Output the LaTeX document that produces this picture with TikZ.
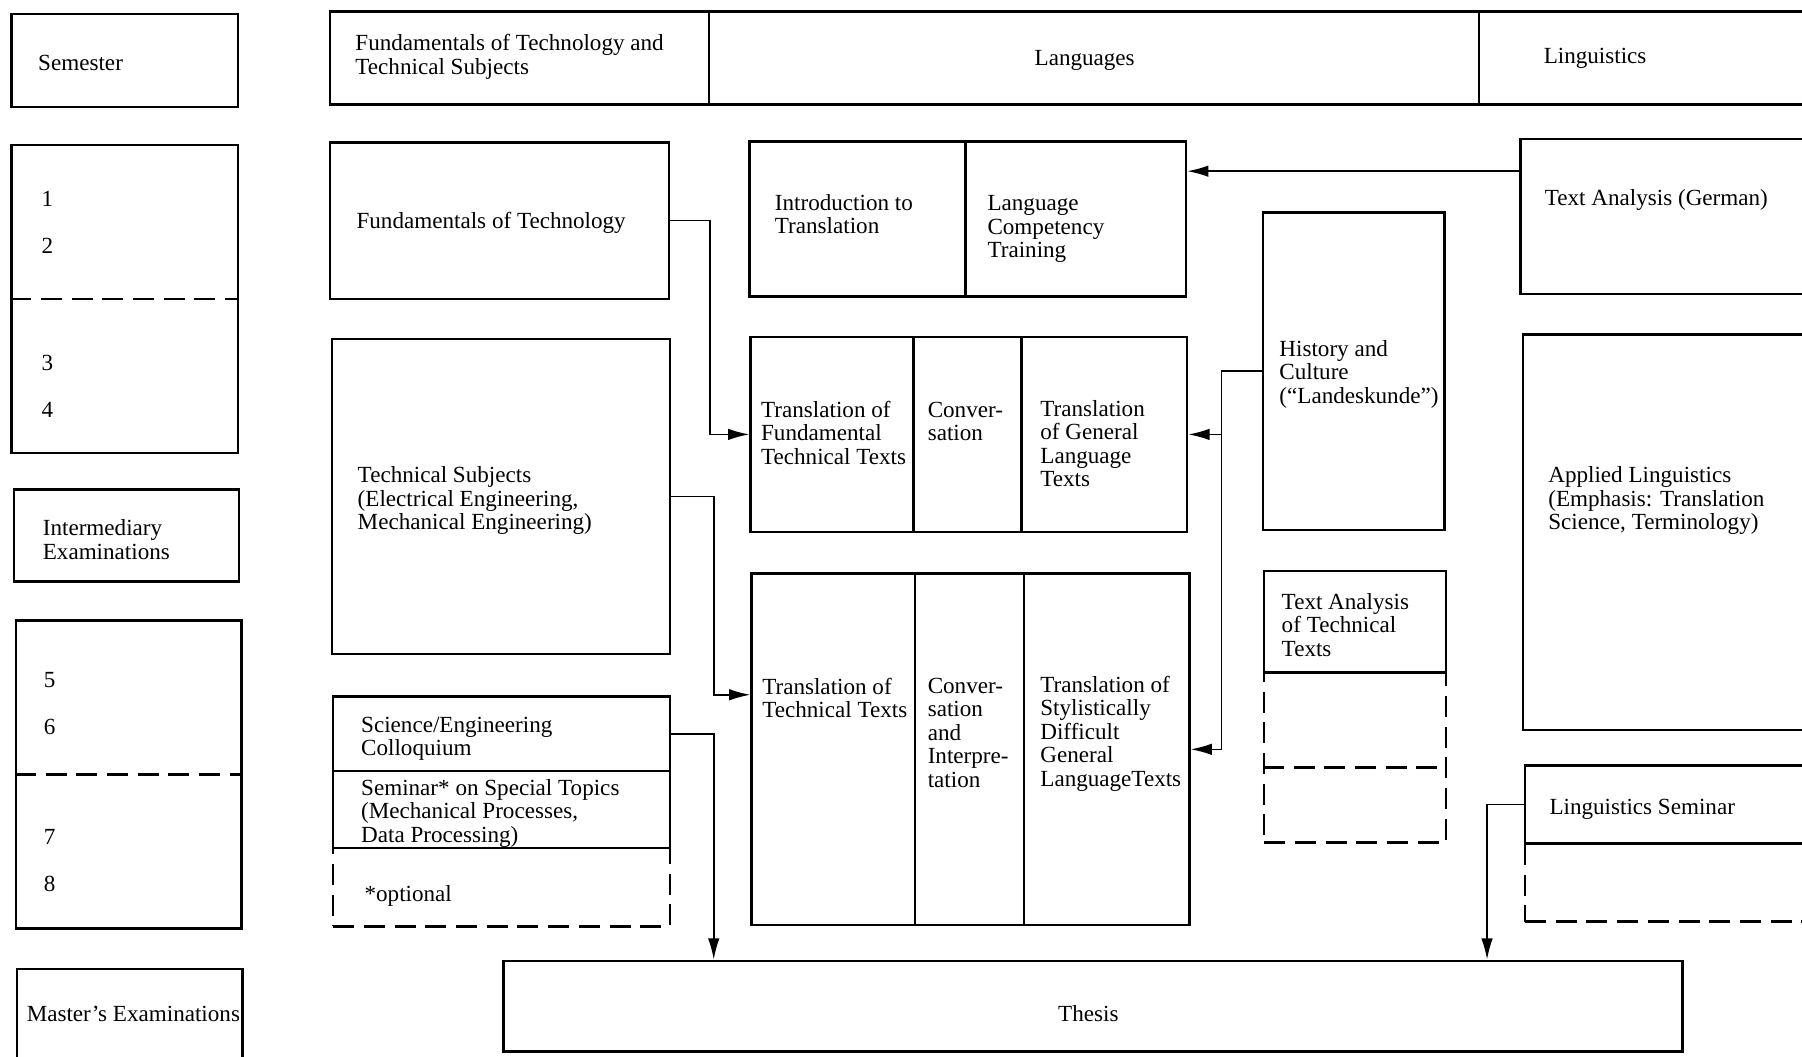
\documentclass[tikz,border=0pt]{standalone}
\usepackage{fontspec}
\setmainfont{Liberation Serif}
\usetikzlibrary{arrows.meta,fit,calc}

\begin{document}
\begin{tikzpicture}[x=0.25mm,y=-0.25mm,>={Latex[length=4.6mm,width=2.5mm]},
box/.style={draw,line width=1.5pt,inner sep=0pt,fit={#1}},
dbox/.style={draw,line width=1.5pt,dash pattern=on 13pt off 6pt,inner sep=0pt,fit={#1}},
dline/.style={line width=1.5pt,dash pattern=on 13pt off 6pt},
lbl/.style={anchor=base west,align=left,inner sep=0pt,font=\fontsize{14.3}{14.5}\selectfont},
link/.style={->,line width=1pt}]
\useasboundingbox (0,0) rectangle (1568,919);
\clip (0,0) rectangle (1568,919);
% semester column
\node[box={(10,12)(207,93)}] (sem) {};
\node[box={(10,126)(207,394)}] (s14) {};
\node[box={(12,426)(208,506)}] (inter) {};
\node[box={(14,540)(210,808)}] (s58) {};
\node[box={(15,843)(211,935)}] (mast) {};
\draw[dline] (s14.west) -- (s14.east);
\draw[dline] (s58.west) -- (s58.east);
\node[lbl] (t-sem) at (33,61) {Semester};
\foreach \n/\y in {1/180,2/221,3/322,4/363} \node[lbl] (n\n) at (36,\y) {\n};
\foreach \n/\y in {5/598,6/639,7/735,8/776} \node[lbl] (n\n) at (38,\y) {\n};
\node[lbl] (t-inter) at (37,486.5) {Intermediary\\Examinations};
\node[lbl] (t-mast) at (23,889) {Master’s Examinations};
% header
\node[box={(287,10)(617,91)}] (hfund) {};
\node[box={(617,10)(1287,91)}] (hlang) {};
\node[box={(1287,10)(1600,91)}] (hling) {};
\node[lbl] (t-hfund) at (309,64.5) {Fundamentals of Technology and\\Technical Subjects};
\node[lbl] (t-hlang) at (900,57) {Languages};
\node[lbl] (t-hling) at (1343,55) {Linguistics};
% technology
\node[box={(287,124)(582,260)}] (fot) {};
\node[box={(289,295)(583,569)}] (tech) {};
\node[dbox={(290,738)(583,806)}] (opt) {};
\node[box={(290,606)(583,671)}] (coll) {};
\node[box={(290,671)(583,738)}] (semi) {};
\node[lbl] (t-fot) at (310,199) {Fundamentals of Technology};
\node[lbl] (t-tech) at (311,461) {Technical Subjects\\(Electrical Engineering,\\Mechanical Engineering)};
\node[lbl] (t-coll) at (314,657.5) {Science/Engineering\\Colloquium};
\node[lbl] (t-semi) at (314,733) {Seminar* on Special Topics\\(Mechanical Processes,\\Data Processing)};
\node[lbl] (t-opt) at (317,784) {*optional};
% languages
\node[box={(652,123)(840,258)}] (intro) {};
\node[box={(840,123)(1032,258)}] (lct) {};
\node[box={(653,293)(795,463)}] (trfund) {};
\node[box={(795,293)(889,463)}] (conv) {};
\node[box={(889,293)(1033,463)}] (trgen) {};
\node[box={(654,499)(796,805)}] (trtech) {};
\node[box={(796,499)(891,805)}] (convint) {};
\node[box={(891,499)(1035,805)}] (trstyl) {};
\node[lbl] (t-intro) at (674,203.5) {Introduction to\\Translation};
\node[lbl] (t-lct) at (859,224) {Language\\Competency\\Training};
\node[lbl] (t-trfund) at (662,404) {Translation of\\Fundamental\\Technical Texts};
\node[lbl] (t-conv) at (807,383.5) {Conver-\\sation};
\node[lbl] (t-trgen) at (905,423.5) {Translation\\of General\\Language\\Texts};
\node[lbl] (t-trtech) at (663,624.5) {Translation of\\Technical Texts};
\node[lbl] (t-convint) at (807,685) {Conver-\\sation\\and\\Interpre-\\tation};
\node[lbl] (t-trstyl) at (905,684) {Translation of\\Stylistically\\Difficult\\General\\LanguageTexts};
\node[box={(1099,185)(1257,461)}] (hist) {};
\node[dbox={(1100,585)(1258,733)}] (tax) {};
\node[box={(1100,497)(1258,585)}] (tatech) {};
\draw[dline] ($(tax.north west)!0.56!(tax.south west)$) -- ($(tax.north east)!0.56!(tax.south east)$);
\node[lbl] (t-hist) at (1113,351) {History and\\Culture\\(“Landeskunde”)};
\node[lbl] (t-tatech) at (1115,571) {Text Analysis\\of Technical\\Texts};
% linguistics
\node[box={(1323,121)(1600,256)}] (tag) {};
\node[box={(1325,291)(1600,635)}] (appl) {};
\node[dbox={(1327,734)(1600,802)}] (lsx) {};
\node[box={(1327,666)(1600,734)}] (lsem) {};
\node[lbl] (t-tag) at (1344,179) {Text Analysis (German)};
\node[lbl] (t-appl) at (1347,461) {Applied Linguistics\\(Emphasis: Translation\\Science, Terminology)};
\node[lbl] (t-lsem) at (1348,709) {Linguistics Seminar};
% thesis
\node[box={(438,836)(1464,915)}] (thesis) {};
\node[lbl,anchor=base] (t-thesis) at (947,889) {Thesis};
% connectors
\draw[link] (fot.east) -- ++(35,0) |- (trfund.west);
\draw[link] (tech.east) -- ++(37,0) |- ($(trtech.north west)!0.346!(trtech.south west)$);
\draw[link] (coll.east) -- ++(37,0) coordinate (c1) -- (c1 |- thesis.north);
\draw[link] ($(tag.north west)+(0,29)$) -- ($(lct.north east)+(0,27)$);
\draw[link] (hist.west) -- ++(-35,0) coordinate (h1) |- (trstyl.east);
\draw[link] (h1 |- trgen.east) -- (trgen.east);
\draw[link] (lsem.west) -- ++(-32,0) coordinate (l1) -- (l1 |- thesis.north);
\end{tikzpicture}
\end{document}
